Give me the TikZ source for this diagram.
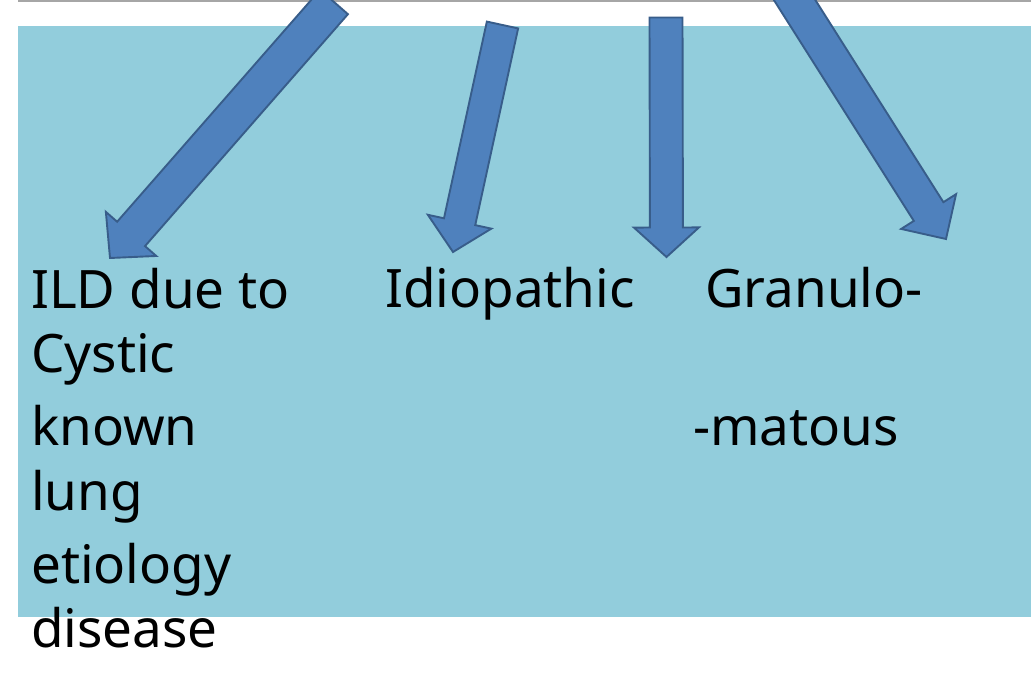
\documentclass[tikz,border=0pt]{standalone}
\usepackage{fontspec}
\setmainfont{Noto Sans}
\usetikzlibrary{calc}
\definecolor{panelblue}{HTML}{92CDDC}
\definecolor{arrowfill}{HTML}{4F81BD}
\definecolor{arrowline}{HTML}{385D8A}
\definecolor{topline}{HTML}{A6A6A6}
\tikzset{
  lbl/.style={anchor=base west, inner sep=0pt, font=\fontsize{53}{60}\selectfont, text=black},
  blockarrow/.style={fill=arrowfill, draw=arrowline, line width=1.9pt, line join=miter}
}
% #1 tail, #2 tip, #3 shaft half width, #4 head half width, #5 head length
\newcommand{\blockarr}[5]{%
  \coordinate (hb) at ($(#2)!#5!(#1)$);
  \draw[blockarrow]
    ($(#1)!#3!90:(#2)$) -- ($(hb)!#3!-90:(#1)$) -- ($(hb)!#4!-90:(#1)$) -- (#2)
    -- ($(hb)!#4!90:(#1)$) -- ($(hb)!#3!90:(#1)$) -- ($(#1)!#3!-90:(#2)$) -- cycle;
}
\begin{document}
\begin{tikzpicture}[x=1pt,y=-1pt]
\useasboundingbox (0,0) rectangle (1031,685);
\clip (0,0) rectangle (1031,685);
\fill[white] (0,0) rectangle (1031,685);
\fill[topline] (18,0) rectangle (1031,2.5);
\fill[panelblue] (18,26) rectangle (1031,617);

% text
\node[lbl] (t1) at (31,308) {ILD due to};
\node[lbl] (t2) at (31,372) {Cystic};
\node[lbl] (t3) at (31,445) {known};
\node[lbl] (t4) at (31,510) {lung};
\node[lbl] (t5) at (31,583) {etiology};
\node[lbl] (t6) at (31,647) {disease};
\node[lbl] (t7) at (385,307) {Idiopathic};
\node[lbl] (t8) at (705,307) {Granulo-};
\node[lbl] (t9) at (693,445) {-matous};

% arrow ends
\coordinate (a1s) at (334,2);
\coordinate (a1e) at (110,258);
\coordinate (a2s) at (502.5,25);
\coordinate (a2e) at (453,252);
\coordinate (a3s) at (666,17.5);
\coordinate (a3e) at (666.5,257);
\coordinate (a4s) at (787,-12);
\coordinate (a4e) at (946,239);

\blockarr{a1s}{a1e}{18.5pt}{33.5pt}{32pt}
\blockarr{a2s}{a2e}{16pt}{32.5pt}{31pt}
\blockarr{a3s}{a3e}{16.5pt}{32.5pt}{29.5pt}
\blockarr{a4s}{a4e}{17.5pt}{32.5pt}{32.5pt}
\end{tikzpicture}
\end{document}
